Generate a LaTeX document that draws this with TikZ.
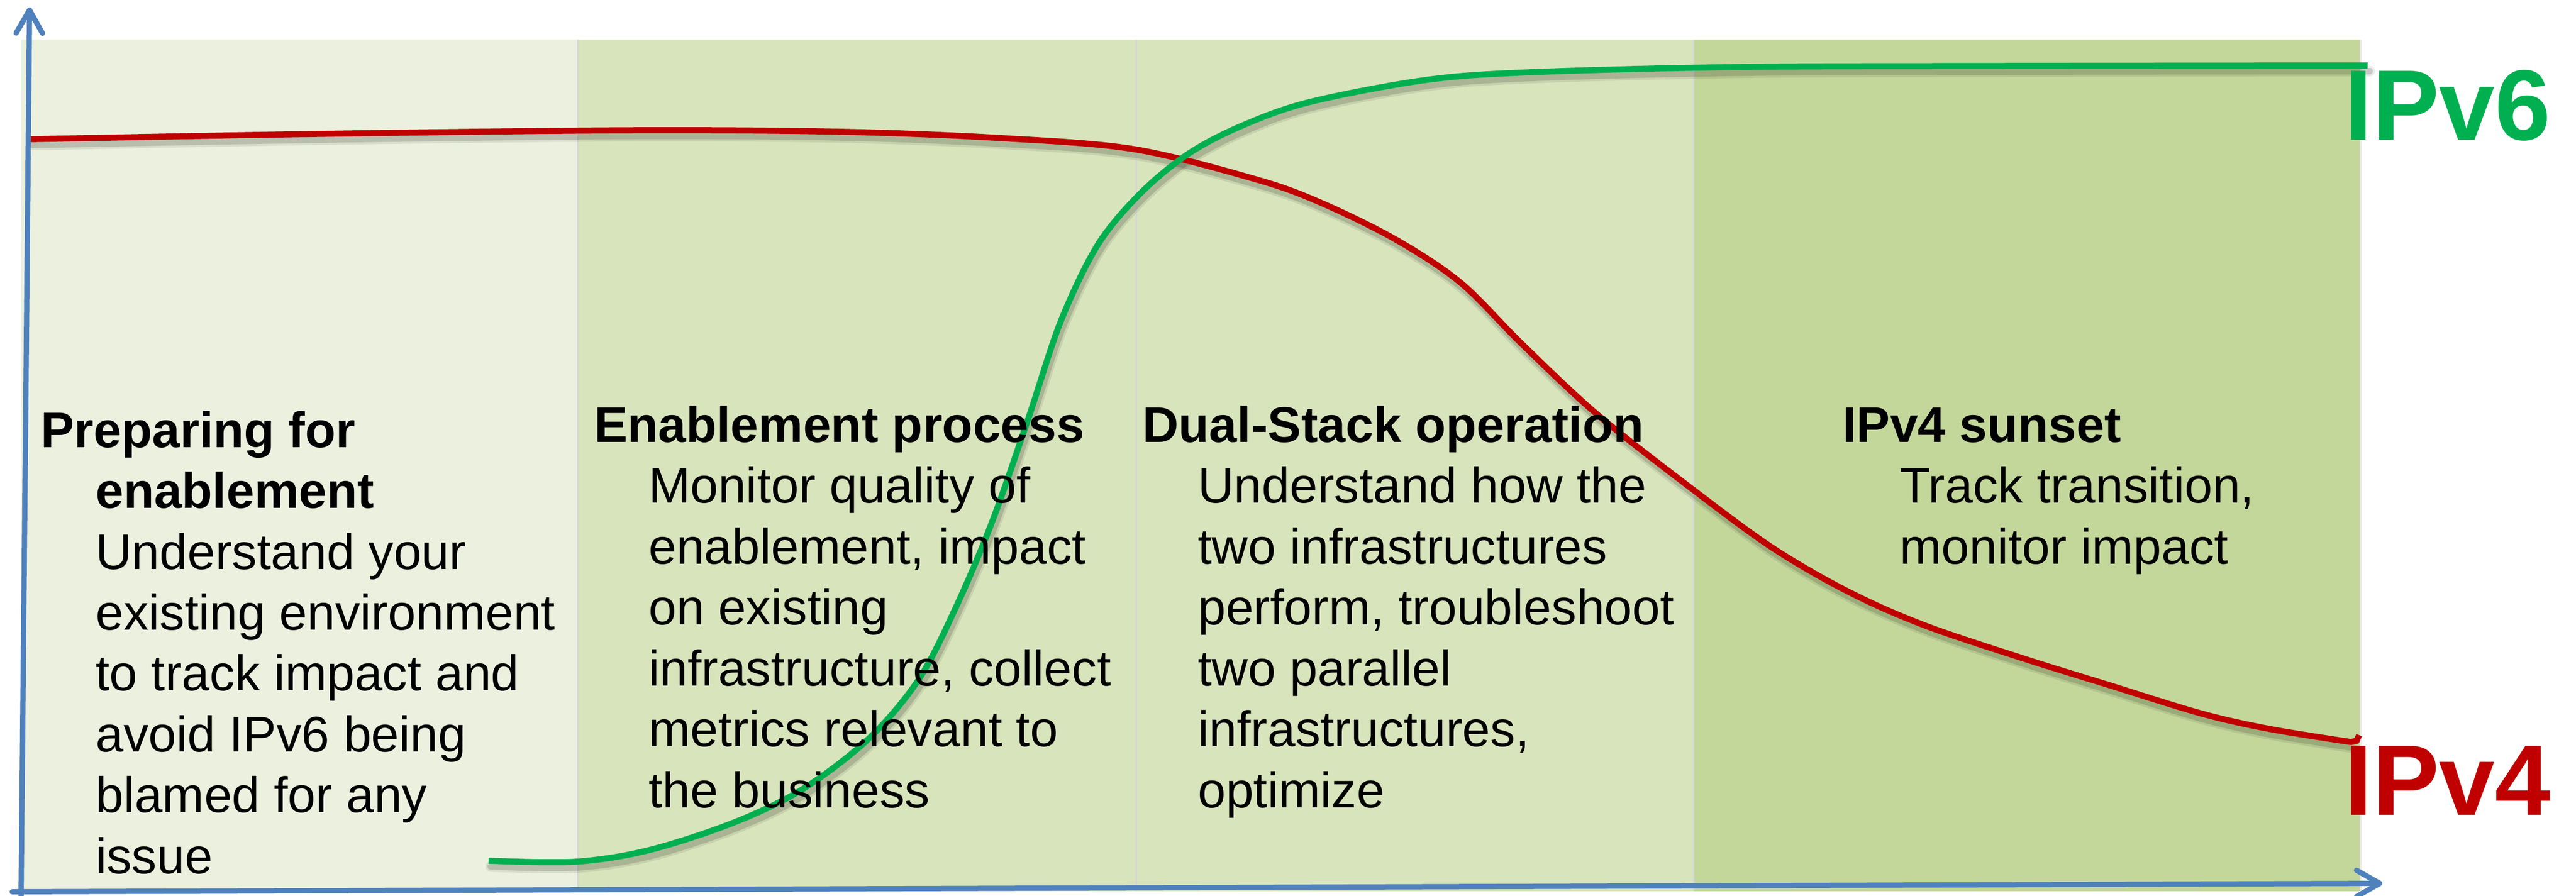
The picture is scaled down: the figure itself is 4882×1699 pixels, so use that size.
\documentclass[tikz,border=0pt]{standalone}
\usepackage{fontspec}
\setmainfont{Liberation Sans}
\usetikzlibrary{arrows.meta}
\definecolor{pone}{HTML}{EBF1DE}
\definecolor{ptwo}{HTML}{D8E4BC}
\definecolor{pfour}{HTML}{C4D79B}
\definecolor{axisblue}{HTML}{4F81BD}
\definecolor{ipvred}{HTML}{C00000}
\definecolor{ipvgreen}{HTML}{00B050}
\begin{document}
\begin{tikzpicture}[x=1pt,y=-1pt,
  sepline/.style={draw=black!16, line width=3},
  axisline/.style={draw=axisblue, line width=10, line cap=round,
    -{Straight Barb[length=44pt,width=50pt,round]}},
  shadowwide/.style={draw=black, opacity=0.08, line width=20, line cap=round, line join=round},
  shadownarrow/.style={draw=black, opacity=0.14, line width=12, line cap=round, line join=round},
  redcurve/.style={draw=ipvred, line width=11.5, line join=round},
  greencurve/.style={draw=ipvgreen, line width=11.5, line join=round},
  ttl/.style={anchor=base west, inner sep=0, font=\fontsize{95}{115}\selectfont\bfseries},
  bdy/.style={anchor=base west, inner sep=0, font=\fontsize{95}{115}\selectfont},
  biglbl/.style={anchor=base west, inner sep=0, font=\fontsize{190}{228}\selectfont\bfseries}
]
\useasboundingbox (0,0) rectangle (4882,1699);
\fill[white] (0,0) rectangle (4882,1699);

% phase panels
\fill[pone]  (40,75)   rectangle (1094,1690);
\fill[ptwo]  (1094,75) rectangle (2152,1690);
\fill[ptwo]  (2152,75) rectangle (3208,1690);
\fill[pfour] (3208,75) rectangle (4472,1690);
\draw[sepline] (1095,75) -- (1095,1690);
\draw[sepline] (2153,75) -- (2153,1690);
\draw[sepline] (3209,75) -- (3209,1690);
\draw[draw=black!8, line width=4] (4474,75) -- (4474,1690);

% curve shadows
\begin{scope}[shift={(4,11)}]
\foreach \sty in {shadowwide, shadownarrow} {
\draw[\sty] plot[smooth, tension=0.55] coordinates {
  (57,264) (600,254) (1200,247) (1600,250) (1900,262) (2150,283) (2380,340)
  (2500,383) (2643,453) (2768,536) (2883,651) (3026,785) (3208,928)
  (3361,1040) (3505,1123) (3648,1186) (3839,1250) (4000,1300) (4172,1353)
  (4300,1382) (4455,1407)};
\draw[\sty] plot[smooth, tension=0.55] coordinates {
  (926,1632) (1090,1634) (1230,1612) (1390,1560) (1520,1497) (1645,1402)
  (1740,1290) (1810,1155) (1880,990) (1950,790) (2010,610) (2080,465)
  (2160,368) (2250,293) (2350,240) (2480,194) (2700,152) (2900,137)
  (3300,127) (3800,125) (4487,124)};
}
\end{scope}

% IPv4 curve
\draw[redcurve] plot[smooth, tension=0.55] coordinates {
  (57,264) (600,254) (1200,247) (1600,250) (1900,262) (2150,283) (2380,340)
  (2500,383) (2643,453) (2768,536) (2883,651) (3026,785) (3208,928)
  (3361,1040) (3505,1123) (3648,1186) (3839,1250) (4000,1300) (4172,1353)
  (4300,1382) (4455,1407)}
  -- (4466,1405) -- (4471,1394);

% IPv6 curve
\draw[greencurve] plot[smooth, tension=0.55] coordinates {
  (926,1632) (1090,1634) (1230,1612) (1390,1560) (1520,1497) (1645,1402)
  (1740,1290) (1810,1155) (1880,990) (1950,790) (2010,610) (2080,465)
  (2160,368) (2250,293) (2350,240) (2480,194) (2700,152) (2900,137)
  (3300,127) (3800,125) (4487,124)};

% axes
\coordinate (ybot) at (40,1698);
\coordinate (ytop) at (56,14);
\coordinate (xleft) at (23,1691);
\coordinate (xright) at (4515,1675);
\draw[axisline] (ybot) -- (ytop);
\draw[axisline] (xleft) -- (xright);

% curve labels
\node[biglbl, text=ipvgreen] (lblsix)  at (4443,265)  {IPv6};
\node[biglbl, text=ipvred]   (lblfour) at (4443,1545) {IPv4};

% phase 1
\node[ttl] (pa1) at (77,848)   {Preparing for};
\node[ttl] (pa2) at (181,963)  {enablement};
\node[bdy] (pa3) at (181,1079) {Understand your};
\node[bdy] (pa4) at (181,1194) {existing environment};
\node[bdy] (pa5) at (181,1309) {to track impact and};
\node[bdy] (pa6) at (181,1425) {avoid IPv6 being};
\node[bdy] (pa7) at (181,1540) {blamed for any};
\node[bdy] (pa8) at (181,1656) {issue};

% phase 2
\node[ttl] (pb1) at (1126,838)  {Enablement process};
\node[bdy] (pb2) at (1229,953)  {Monitor quality of};
\node[bdy] (pb3) at (1229,1069) {enablement, impact};
\node[bdy] (pb4) at (1229,1184) {on existing};
\node[bdy] (pb5) at (1229,1300) {infrastructure, collect};
\node[bdy] (pb6) at (1229,1415) {metrics relevant to};
\node[bdy] (pb7) at (1229,1531) {the business};

% phase 3
\node[ttl] (pc1) at (2165,838)  {Dual-Stack operation};
\node[bdy] (pc2) at (2270,953)  {Understand how the};
\node[bdy] (pc3) at (2270,1069) {two infrastructures};
\node[bdy] (pc4) at (2270,1184) {perform, troubleshoot};
\node[bdy] (pc5) at (2270,1300) {two parallel};
\node[bdy] (pc6) at (2270,1415) {infrastructures,};
\node[bdy] (pc7) at (2270,1531) {optimize};

% phase 4
\node[ttl] (pd1) at (3492,838)  {IPv4 sunset};
\node[bdy] (pd2) at (3600,953)  {Track transition,};
\node[bdy] (pd3) at (3600,1069) {monitor impact};
\end{tikzpicture}
\end{document}
